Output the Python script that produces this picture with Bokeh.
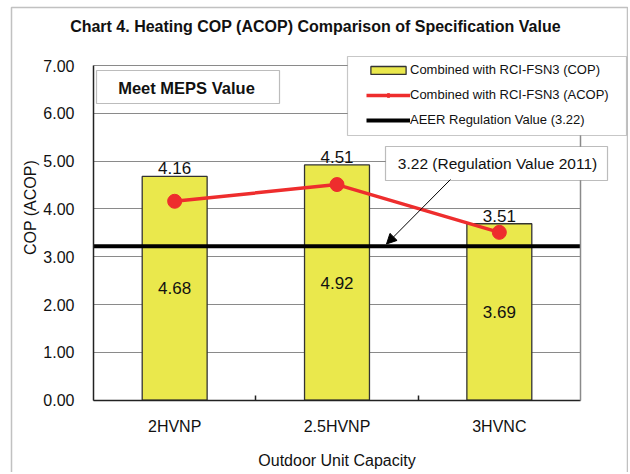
from bokeh.plotting import figure
from bokeh.models import (Label, BoxAnnotation, Arrow, NormalHead, Legend, LegendItem,
                          ColumnDataSource, NumeralTickFormatter, FixedTicker,
                          LinearAxis, Range1d)
from bokeh.core.properties import value
from bokeh.embed import file_html
from bokeh.resources import INLINE

# ---------------- data ----------------
categories = ["2HVNP", "2.5HVNP", "3HVNC"]
cop_values = [4.68, 4.92, 3.69]
acop_values = [4.16, 4.51, 3.51]
regulation_value = 3.22
y_ticks = [0, 1, 2, 3, 4, 5, 6, 7]
y_max = 7

title_text = "Chart 4. Heating COP (ACOP) Comparison of Specification Value"
y_title = "COP (ACOP)"
x_title = "Outdoor Unit Capacity"
legend_labels = ["Combined with RCI-FSN3 (COP)",
                 "Combined with RCI-FSN3 (ACOP)",
                 "AEER Regulation Value (3.22)"]
callout_text = "3.22 (Regulation Value 2011)"
meps_text = "Meet MEPS Value"

# ---------------- layout (canvas pixels) ----------------
W, H = 628, 472
FRAME_L, FRAME_R = 93, 580      # pixel of x=0 and x=n
Y0_PX, YMAX_PX = 399.7, 65.0    # pixel of y=0 and y=y_max
n = len(categories)
xs = n / (FRAME_R - FRAME_L)
ys = y_max / (Y0_PX - YMAX_PX)

FONT = "Liberation Sans"
YELLOW = "#EAE84C"
RED = "#EE2D2D"
GRID = "#8A8A8A"
INK = "#111111"

x_pos = [i + 0.5 for i in range(n)]
src = ColumnDataSource(dict(
    x=x_pos,
    cop=cop_values,
    acop=acop_values,
    cop_mid=[c / 2 for c in cop_values],
    cop_lbl=["%.2f" % c for c in cop_values],
    acop_lbl=["%.2f" % a for a in acop_values],
))

p = figure(width=W, height=H, title=None,
           x_range=Range1d(-FRAME_L * xs, (W - FRAME_L) * xs),
           y_range=Range1d(-(H - Y0_PX) * ys, Y0_PX * ys),
           output_backend="svg", toolbar_location=None,
           min_border_left=0, min_border_right=0,
           min_border_top=0, min_border_bottom=0)
p.background_fill_color = "white"
p.border_fill_color = "white"
p.outline_line_color = None

# grid
p.xgrid.grid_line_color = None
p.ygrid.grid_line_color = GRID
p.ygrid.grid_line_width = 1
p.ygrid.bounds = (0, y_max)
try:
    p.ygrid.cross_bounds = (0, n)
except Exception:
    pass

# axes
xa = p.xaxis[0]
ya = p.yaxis[0]
xa.fixed_location = 0
ya.fixed_location = 0
xa.bounds = (0, n)
ya.bounds = (0, y_max)
ya.ticker = FixedTicker(ticks=y_ticks)
xa.ticker = FixedTicker(ticks=x_pos, minor_ticks=list(range(1, n)))
xa.major_label_overrides = {xp: c for xp, c in zip(x_pos, categories)}
for ax in (xa, ya):
    ax.axis_line_color = "#222222"
    ax.axis_line_width = 1.5
    ax.major_tick_out = 0
    ax.major_tick_in = 0
    ax.minor_tick_out = 0
    ax.minor_tick_in = 0
    ax.major_label_text_font = FONT
    ax.major_label_text_font_size = "16px"
    ax.major_label_text_color = INK
xa.minor_tick_in = 5
xa.minor_tick_line_color = "#222222"
xa.minor_tick_line_width = 1.5
ya.formatter = NumeralTickFormatter(format="0.00")
ya.major_label_standoff = 19
xa.major_label_standoff = 18
xa.axis_label = x_title
xa.axis_label_text_font = FONT
xa.axis_label_text_font_size = "16px"
xa.axis_label_text_font_style = "normal"
xa.axis_label_text_color = INK
xa.axis_label_standoff = 13

# plot-area right edge
right_edge = LinearAxis(fixed_location=n, bounds=(0, y_max),
                        ticker=FixedTicker(ticks=[]),
                        axis_line_color=GRID, axis_line_width=1.5,
                        major_tick_out=0, major_tick_in=0,
                        minor_tick_out=0, minor_tick_in=0)
p.add_layout(right_edge, "right")

# bars
bars = p.vbar(x="x", top="cop", width=0.4, source=src, fill_color=YELLOW,
              line_color="#333333", line_width=1.3)

# regulation line
reg = p.segment(x0=0, x1=n, y0=regulation_value, y1=regulation_value,
                line_color="black", line_width=4)

# ACOP line
acop_line = p.line(x="x", y="acop", source=src, line_color=RED, line_width=3.5)
p.scatter(x="x", y="acop", source=src, size=14, fill_color=RED,
          line_color=RED)

# value labels
p.text(x="x", y="cop", text="acop_lbl", source=src, text_align="center",
       text_baseline="alphabetic", y_offset=-8, text_font=value(FONT),
       text_font_size="17px", text_color=INK)
p.text(x="x", y="cop_mid", text="cop_lbl", source=src, text_align="center",
       text_baseline="middle", text_font=value(FONT),
       text_font_size="17px", text_color=INK)

# small legend marker (draws nothing in the plot: no finite point)
lg_pt = p.scatter(x=[float("nan")], y=[float("nan")], size=8,
                  fill_color=RED, line_color=RED)


def cbox(l, r, t, b, **kw):
    return BoxAnnotation(left=l, right=r, top=t, bottom=b,
                         left_units="canvas", right_units="canvas",
                         top_units="canvas", bottom_units="canvas", **kw)


# outer frame
p.add_layout(cbox(11, 627, 7, 490, fill_alpha=0, line_color="#333333",
                  line_width=1.5))
# legend box
p.add_layout(cbox(347, 626, 56, 135, fill_color="white", fill_alpha=1,
                  line_color="#444444", line_width=1.2))
# callout box
p.add_layout(cbox(385, 607, 146, 180, fill_color="white", fill_alpha=1,
                  line_color="#222222", line_width=1.2))
# MEPS box
p.add_layout(cbox(96, 279, 70, 103, fill_color="white", fill_alpha=1,
                  line_color="#222222", line_width=1.2))

legend = Legend(items=[
    LegendItem(label=legend_labels[0], renderers=[bars]),
    LegendItem(label=legend_labels[1], renderers=[acop_line, lg_pt]),
    LegendItem(label=legend_labels[2], renderers=[reg]),
], location=(366, H - 132))
legend.border_line_color = None
legend.background_fill_alpha = 0
legend.padding = 0
legend.margin = 0
legend.spacing = 0
legend.label_height = 25
legend.glyph_height = 10
legend.glyph_width = 44
legend.label_standoff = 0
legend.label_text_font = FONT
legend.label_text_font_size = "13px"
legend.label_text_color = INK
p.add_layout(legend, "center")

p.add_layout(Label(x=497, y=163, x_units="canvas", y_units="canvas",
                   text=callout_text, text_align="center", text_baseline="middle",
                   text_font=FONT, text_font_size="15.5px", text_color=INK))
p.add_layout(Arrow(x_start=450, y_start=179, x_end=386, y_end=243.5,
                   start_units="canvas", end_units="canvas",
                   line_color="black", line_width=1,
                   end=NormalHead(size=10, fill_color="black", line_color="black")))

p.add_layout(Label(x=186, y=87, x_units="canvas", y_units="canvas",
                   text=meps_text, text_align="center", text_baseline="middle",
                   text_font=FONT, text_font_size="16.5px", text_font_style="bold",
                   text_color=INK))

# title
p.add_layout(Label(x=315, y=26, x_units="canvas", y_units="canvas",
                   text=title_text, text_align="center", text_baseline="middle",
                   text_font=FONT, text_font_size="16px", text_font_style="bold",
                   text_color=INK))
# y axis title
p.add_layout(Label(x=30, y=207, x_units="canvas", y_units="canvas",
                   text=y_title, angle=1.5707963, text_align="center",
                   text_baseline="middle",
                   text_font=FONT, text_font_size="16px", text_color=INK))

open("out.html", "w").write(file_html(p, INLINE))
